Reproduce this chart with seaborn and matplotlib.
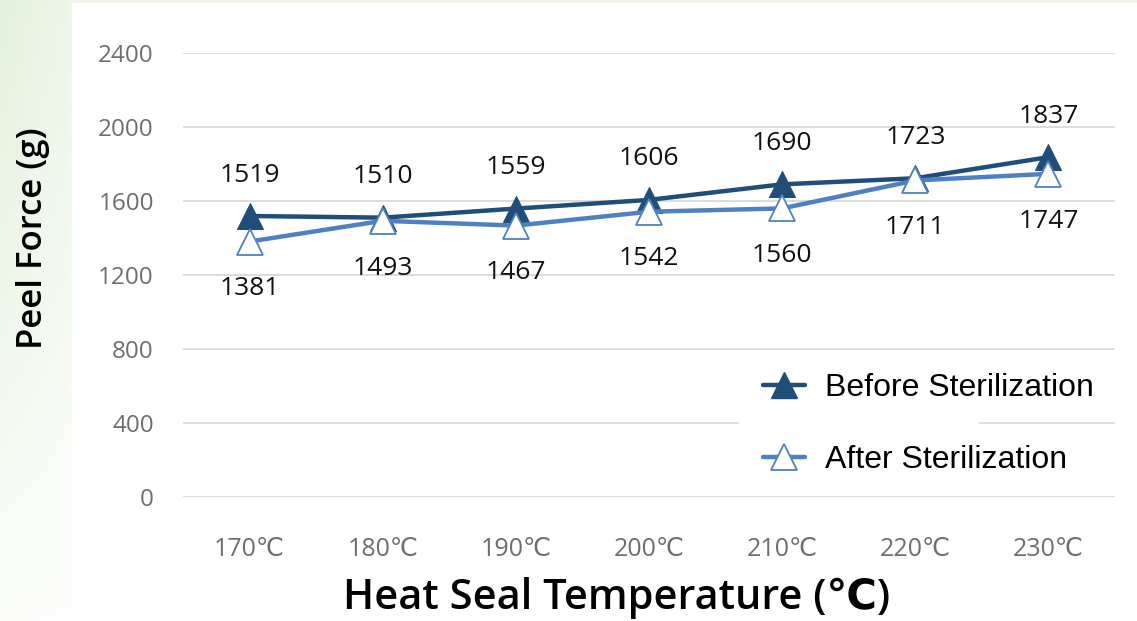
import numpy as np
import pandas as pd
import matplotlib
matplotlib.use("Agg")
import matplotlib.pyplot as plt
from matplotlib.lines import Line2D
from matplotlib.patches import Rectangle
import seaborn as sns

# chart data
temps = ["170℃", "180℃", "190℃", "200℃", "210℃", "220℃", "230℃"]
before = [1519, 1510, 1559, 1606, 1690, 1723, 1837]
after = [1381, 1493, 1467, 1542, 1560, 1711, 1747]
y_ticks = [0, 400, 800, 1200, 1600, 2000, 2400]

df = pd.DataFrame({"temp": temps * 2,
                   "force": before + after,
                   "series": ["Before Sterilization"] * 7 + ["After Sterilization"] * 7})

sns.set_style("white")
plt.rcParams["font.family"] = ["Open Sans", "DejaVu Sans"]

dark = "#1F4E79"
light = "#4F81C2"
W, H = 1137, 621

fig = plt.figure(figsize=(W / 100, H / 100), dpi=100)

# light green gradient behind a white panel (greener at the top left)
bg = fig.add_axes([0, 0, 1, 1], zorder=-10)
yy, xx = np.mgrid[0:1:200j, 0:1:200j]
f = np.clip((1 - yy) * 0.9 + 0.1, 0, 1) * np.clip(1 - xx * 6, 0.6, 1)
green = np.array([0.89, 0.945, 0.86])
img = 1 - f[..., None] * (1 - green)
bg.imshow(img, extent=[0, 1, 0, 1], aspect="auto", origin="upper")
bg.add_patch(Rectangle((72 / W, 0), 1, 1 - 3 / H, color="white"))
bg.set_xlim(0, 1)
bg.set_ylim(0, 1)
bg.axis("off")

ax = fig.add_axes([183 / W, 1 - 497 / H, (1115 - 183) / W, (497 - 53) / H])
ax.patch.set_alpha(0)

sub_b = df[df["series"] == "Before Sterilization"]
sub_a = df[df["series"] == "After Sterilization"]
sns.lineplot(data=sub_b, x="temp", y="force", ax=ax, color=dark, lw=3.2, sort=False,
             marker="^", markersize=19, markerfacecolor=dark, markeredgecolor=dark, zorder=3)
sns.lineplot(data=sub_a, x="temp", y="force", ax=ax, color=light, lw=3.2, sort=False,
             marker="^", markersize=19, markerfacecolor="white", markeredgecolor=light,
             markeredgewidth=1.3, zorder=4)

num_kw = dict(family=["Open Sans", "DejaVu Sans"], fontsize=19, color="#111111")
for i, (b, a) in enumerate(zip(before, after)):
    ax.annotate(str(b), (i, b), xytext=(0, 29.5), textcoords="offset points",
                ha="center", va="center", **num_kw)
    ax.annotate(str(a), (i, a), xytext=(0, -34), textcoords="offset points",
                ha="center", va="center", **num_kw)

ax.set_xlim(-0.5, 6.5)
ax.set_ylim(0, 2400)
ax.set_yticks(y_ticks)
ax.grid(axis="y", color="#d9d9d9", lw=1.3)
ax.grid(axis="x", visible=False)
for s in ax.spines.values():
    s.set_visible(False)
ax.tick_params(axis="both", length=0, labelcolor="#6e6e6e")
ax.tick_params(axis="y", pad=21, labelsize=17.5)
ax.tick_params(axis="x", pad=29, labelsize=18)

ax.set_xlabel("Heat Seal Temperature (℃)", fontsize=30, fontweight="semibold", color="black")
ax.xaxis.set_label_coords((617 - 183) / 932, (497 - 598) / 444)
ax.xaxis.label.set_va("center")
ax.set_ylabel("Peel Force (g)", fontsize=25, fontweight="semibold", color="black")
ax.yaxis.set_label_coords((33 - 183) / 932, (497 - 238) / 444)
ax.yaxis.label.set_va("center")

# white legend box (covers the gridlines)
fig.add_artist(Rectangle((739 / W, 1 - 492 / H), (979 - 739) / W, (492 - 355) / H,
                         facecolor="white", edgecolor="none", zorder=5))

handles = [Line2D([], [], color=dark, lw=3.2, marker="^", markersize=19,
                  markerfacecolor=dark, markeredgecolor=dark),
           Line2D([], [], color=light, lw=3.2, marker="^", markersize=19,
                  markerfacecolor="white", markeredgecolor=light, markeredgewidth=1.3)]
leg = fig.legend(handles, ["Before Sterilization", "After Sterilization"],
                 loc="center left", bbox_to_anchor=(763 / W, 1 - 424 / H), frameon=False,
                 prop={"family": "Liberation Sans", "size": 23}, labelcolor="black",
                 labelspacing=1.3, handlelength=1.3, handletextpad=0.65, borderpad=0,
                 borderaxespad=0)
leg.set_zorder(6)

fig.savefig("out.png", dpi=100)
